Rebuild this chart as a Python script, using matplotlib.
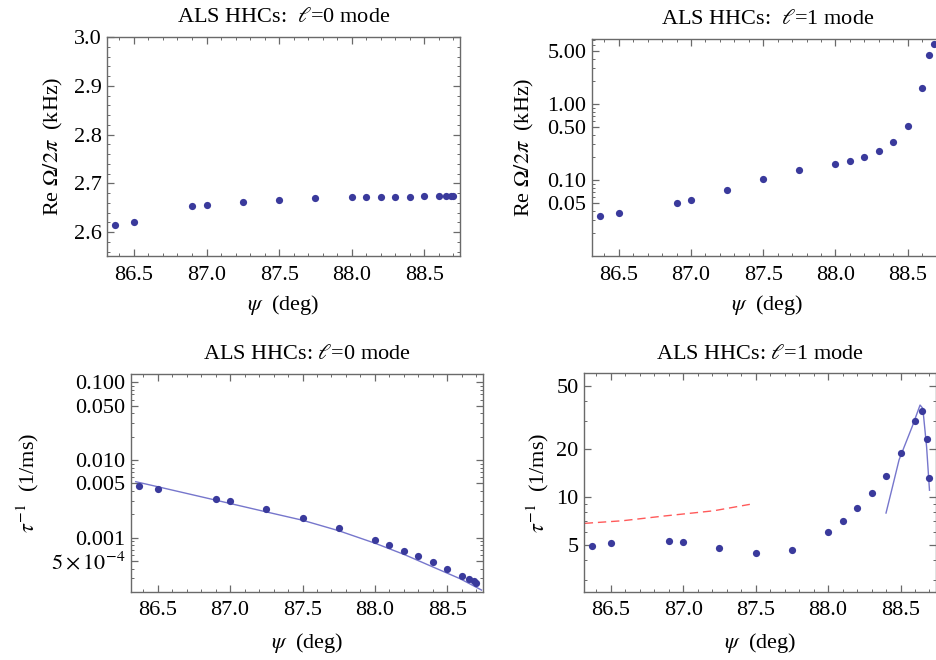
import numpy as np
import matplotlib
matplotlib.use('Agg')
import matplotlib.pyplot as plt
from matplotlib.ticker import MultipleLocator, LogLocator, NullFormatter

plt.rcParams['font.family'] = ['Liberation Serif', 'DejaVu Serif']
plt.rcParams['mathtext.fontset'] = 'stix'
plt.rcParams['font.size'] = 16

# scan angle (deg)
psi = [86.37, 86.5, 86.9, 87.0, 87.25, 87.5, 87.75, 88.0, 88.1, 88.2,
       88.3, 88.4, 88.5, 88.6, 88.65, 88.68, 88.7]

# Re Omega / 2pi (kHz)
re_l0 = [2.615, 2.620, 2.653, 2.656, 2.662, 2.666, 2.669, 2.671, 2.671, 2.672,
         2.672, 2.672, 2.673, 2.673, 2.673, 2.673, 2.673]
psi_l1 = psi[:-1]
re_l1 = [0.0342, 0.0375, 0.0507, 0.055, 0.0745, 0.104, 0.135, 0.165, 0.179, 0.203,
         0.241, 0.319, 0.523, 1.62, 4.45, 6.27]

# growth/damping rate 1/tau (1/ms)
rate_l0 = [0.00458, 0.0042, 0.00318, 0.00296, 0.00234, 0.00177, 0.00132, 0.000933,
           0.000805, 0.00068, 0.000575, 0.000482, 0.000399, 0.000321, 0.000291,
           0.000277, 0.000264]
rate_l1 = [4.91, 5.08, 5.23, 5.18, 4.77, 4.43, 4.61, 5.99, 7.03, 8.46,
           10.6, 13.5, 18.9, 30.2, 34.9, 23.0, 13.2]

# theory curves
fit_l0_psi = [86.35, 86.5, 86.9, 87.25, 87.5, 87.75, 88.0, 88.2, 88.4, 88.59, 88.735]
fit_l0 = [0.00526, 0.00454, 0.00305, 0.00215, 0.00168, 0.00123, 0.00085,
          0.00061, 0.00042, 0.000295, 0.000212]
fit_l1_psi = [88.40, 88.445, 88.49, 88.58, 88.635, 88.654, 88.68, 88.70]
fit_l1 = [7.9, 11.6, 17.1, 27.6, 37.9, 36.1, 20.7, 11.0]
dash_psi = [86.32, 86.58, 86.86, 87.21, 87.46]
dash_rate = [6.8, 7.06, 7.55, 8.16, 8.96]

xticks = [86.5, 87.0, 87.5, 88.0, 88.5]
xtick_labels = ['86.5', '87.0', '87.5', '88.0', '88.5']
tl_yticks = [2.6, 2.7, 2.8, 2.9, 3.0]
tl_ylabels = ['2.6', '2.7', '2.8', '2.9', '3.0']
tr_yticks = [0.05, 0.1, 0.5, 1.0, 5.0]
tr_ylabels = ['0.05', '0.10', '0.50', '1.00', '5.00']
bl_yticks = [5e-4, 0.001, 0.005, 0.01, 0.05, 0.1]
bl_ylabels = [r'$5\times10^{-4}$', '0.001', '0.005', '0.010', '0.050', '0.100']
br_yticks = [5, 10, 20, 50]
br_ylabels = ['5', '10', '20', '50']

W, H = 937, 660
fig = plt.figure(figsize=(W / 100, H / 100), dpi=100)

def make_axes(left, right, top, bottom):
    return fig.add_axes([left / W, 1 - bottom / H, (right - left) / W, (bottom - top) / H])

dot = dict(ls='none', marker='o', ms=5.2, mew=0, color='#3a3a9c')
frame = '#6a6a6a'

def style(ax, title, ylabel, ylab_x, xlab_y):
    ax.set_xlim(86.315, 88.745)
    ax.set_xticks(xticks, labels=xtick_labels)
    ax.xaxis.set_minor_locator(MultipleLocator(0.1))
    for s in ax.spines.values():
        s.set_color(frame)
        s.set_linewidth(1.0)
    ax.tick_params(which='both', direction='in', top=True, right=True, color=frame,
                   labelsize=16)
    ax.tick_params(which='major', length=5, width=0.9)
    ax.tick_params(which='minor', length=2.5, width=0.7)
    ax.tick_params(axis='x', pad=7)
    ax.tick_params(axis='y', pad=4)
    ax.set_title(title, fontsize=16, pad=10.5)
    ax.set_ylabel(ylabel, fontsize=16, va='center')
    ax.yaxis.set_label_coords(ylab_x, 0.5)
    ax.set_xlabel(r'$\psi$  (deg)', fontsize=16, va='center')
    ax.xaxis.set_label_coords(0.5, xlab_y)

def log_minor(ax):
    ax.yaxis.set_minor_locator(LogLocator(base=10, subs=np.arange(2, 10), numticks=50))
    ax.yaxis.set_minor_formatter(NullFormatter())

# top left: l=0 frequency
ax1 = make_axes(107, 460, 37, 256)
ax1.plot(psi, re_l0, **dot)
ax1.set_ylim(2.551, 3.0)
ax1.set_yticks(tl_yticks, labels=tl_ylabels)
ax1.yaxis.set_minor_locator(MultipleLocator(0.02))
style(ax1, r'ALS HHCs:  $\ell$=0 mode', r'Re $\Omega/2\pi$  (kHz)', -0.153, -0.224)

# top right: l=1 frequency (frame runs past the picture edge)
ax2 = make_axes(592, 943, 38.7, 256)
ax2.plot(psi_l1, re_l1, **dot)
ax2.set_yscale('log')
ax2.set_ylim(0.0101, 7.3)
ax2.set_yticks(tr_yticks, labels=tr_ylabels)
log_minor(ax2)
style(ax2, r'ALS HHCs:  $\ell$=1 mode', r'Re $\Omega/2\pi$  (kHz)', -0.191, -0.224)

# bottom left: l=0 rate
ax3 = make_axes(130.7, 483, 374, 591.7)
ax3.plot(fit_l0_psi, fit_l0, color='#7676cc', lw=1.0)
ax3.plot(psi, rate_l0, **dot)
ax3.set_yscale('log')
ax3.set_ylim(2.02e-4, 0.128)
ax3.set_yticks(bl_yticks, labels=bl_ylabels)
log_minor(ax3)
style(ax3, r'ALS HHCs: $\ell$=0 mode', r'$\tau^{-1}$  (1/ms)', -0.2915, -0.235)

# bottom right: l=1 rate
ax4 = make_axes(584, 936, 373.3, 591.7)
ax4.plot(dash_psi, dash_rate, color='#ff5a5a', lw=1.0, dashes=(6, 3.5))
ax4.plot(fit_l1_psi, fit_l1, color='#7676cc', lw=1.0)
ax4.plot(psi, rate_l1, **dot)
ax4.set_yscale('log')
ax4.set_ylim(2.52, 60.1)
ax4.set_yticks(br_yticks, labels=br_ylabels)
log_minor(ax4)
style(ax4, r'ALS HHCs: $\ell$=1 mode', r'$\tau^{-1}$  (1/ms)', -0.131, -0.235)

fig.savefig('out.png', dpi=100)
